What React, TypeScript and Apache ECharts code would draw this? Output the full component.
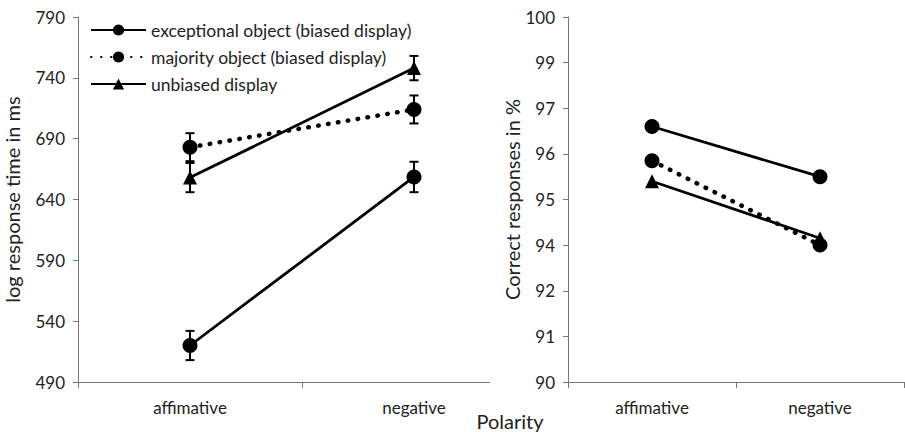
import React, { useEffect, useRef } from "react";
import * as echarts from "echarts";

const categories = ["affimative", "negative"];
const seriesNames = [
  "exceptional object (biased display)",
  "majority object (biased display)",
  "unbiased display",
];

// Left panel: log response time in ms (mean, error)
const rtExceptional = [520, 658.5];
const rtExceptionalErr = [12, 12.5];
const rtMajority = [683, 714];
const rtMajorityErr = [11.5, 11.5];
const rtUnbiased = [658, 748];
const rtUnbiasedErr = [12, 10];

// Right panel: correct responses in %
const accExceptional = [96.6, 95.5];
const accMajority = [95.85, 94.0];
const accUnbiased = [95.4, 94.15];
const accTickLabels = [90, 91, 92, 94, 95, 96, 97, 99, 100];

const FONT = "Lato";

function accPos(v: number): number {
  for (let i = 0; i < accTickLabels.length - 1; i++) {
    const a = accTickLabels[i];
    const b = accTickLabels[i + 1];
    if (v >= a && v <= b) return i + (v - a) / (b - a);
  }
  return 0;
}

function errData(means: number[], errs: number[]) {
  return means.map((m, i) => [i, m - errs[i], m + errs[i]]);
}

const renderErr = (params: any, api: any) => {
  const x = api.value(0);
  const lo = api.coord([x, api.value(1)]);
  const hi = api.coord([x, api.value(2)]);
  const cap = 4.5;
  const style = { stroke: "#000", lineWidth: 2 };
  return {
    type: "group",
    children: [
      { type: "line", shape: { x1: lo[0], y1: lo[1], x2: hi[0], y2: hi[1] }, style },
      { type: "line", shape: { x1: lo[0] - cap, y1: lo[1], x2: lo[0] + cap, y2: lo[1] }, style },
      { type: "line", shape: { x1: hi[0] - cap, y1: hi[1], x2: hi[0] + cap, y2: hi[1] }, style },
    ],
  };
};

export default function App() {
  const ref = useRef<HTMLDivElement>(null);
  useEffect(() => {
    if (!ref.current) return;
    const chart = echarts.init(ref.current, undefined, { renderer: "svg" });
    const solid = { color: "#000", width: 2.8, type: "solid" as const };
    const dotted = { color: "#000", width: 4.5, type: [0.5, 9.5], cap: "round" as const };
    const axisLabel = { color: "#222", fontFamily: FONT, fontSize: 17 };
    const axisLine = { show: true, lineStyle: { color: "#777", width: 1 } };
    const axisTick = { show: true, length: 5, lineStyle: { color: "#777" } };
    const titleStyle = { color: "#222", fontFamily: FONT, fontSize: 20 };

    const lineSeries = (
      name: string,
      data: number[],
      symbol: string,
      size: number,
      ls: any,
      gi: number
    ) => ({
      type: "line",
      name,
      data,
      xAxisIndex: gi,
      yAxisIndex: gi,
      symbol,
      symbolSize: size,
      showSymbol: true,
      itemStyle: { color: "#000", borderWidth: 0 },
      lineStyle: ls,
      z: 5,
    });

    const errSeries = (data: any[], gi: number) => ({
      type: "custom",
      xAxisIndex: gi,
      yAxisIndex: gi,
      renderItem: renderErr,
      data,
      z: 3,
      silent: true,
    });

    chart.setOption({
      animation: false,
      backgroundColor: "#fff",
      textStyle: { fontFamily: FONT },
      grid: [
        { left: 78, right: 379, top: 17, bottom: 50 },
        { left: 568, right: 1, top: 17, bottom: 50 },
      ],
      legend: {
        left: 90,
        top: 21,
        padding: 0,
        orient: "vertical",
        itemWidth: 55,
        itemHeight: 14,
        itemGap: 9,
        data: seriesNames,
        textStyle: { color: "#222", fontFamily: FONT, fontSize: 17.5 },
        selectedMode: false,
      },
      xAxis: [0, 1].map((gi) => ({
        type: "category",
        gridIndex: gi,
        data: categories,
        boundaryGap: true,
        axisLine,
        axisTick: { show: true, length: 6, lineStyle: { color: "#777" } },
        axisLabel: { ...axisLabel, margin: 17 },
        splitLine: { show: false },
      })),
      yAxis: [
        {
          type: "value",
          gridIndex: 0,
          min: 490,
          max: 790,
          interval: 50,
          axisLine,
          axisTick,
          axisLabel: { ...axisLabel, margin: 13 },
          splitLine: { show: false },
          name: "log response time in ms",
          nameLocation: "middle",
          nameGap: 56,
          nameTextStyle: titleStyle,
        },
        {
          type: "value",
          gridIndex: 1,
          min: 0,
          max: 8,
          interval: 1,
          axisLine,
          axisTick,
          axisLabel: {
            ...axisLabel,
            margin: 13,
            formatter: (v: number) => String(accTickLabels[Math.round(v)] ?? ""),
          },
          splitLine: { show: false },
          name: "Correct responses in %",
          nameLocation: "middle",
          nameGap: 45,
          nameTextStyle: titleStyle,
        },
      ],
      graphic: [
        {
          type: "rect",
          shape: { x: 490, y: 372, width: 40, height: 20 },
          style: { fill: "#fff" },
          z: 100,
        },
        {
          type: "text",
          x: 510,
          y: 421,
          style: {
            text: "Polarity",
            fontFamily: FONT,
            fontSize: 20,
            fill: "#222",
            align: "center",
            verticalAlign: "middle",
          },
          z: 100,
        },
      ],
      series: [
        errSeries(errData(rtExceptional, rtExceptionalErr), 0),
        errSeries(errData(rtMajority, rtMajorityErr), 0),
        errSeries(errData(rtUnbiased, rtUnbiasedErr), 0),
        lineSeries(seriesNames[0], rtExceptional, "circle", 15, solid, 0),
        lineSeries(seriesNames[1], rtMajority, "circle", 15, dotted, 0),
        lineSeries(seriesNames[2], rtUnbiased, "triangle", 14, solid, 0),
        lineSeries(seriesNames[0], accExceptional.map(accPos), "circle", 15, solid, 1),
        lineSeries(seriesNames[1], accMajority.map(accPos), "circle", 15, dotted, 1),
        lineSeries(seriesNames[2], accUnbiased.map(accPos), "triangle", 14, solid, 1),
      ],
    });
    return () => chart.dispose();
  }, []);
  return (
    <div
      ref={ref}
      style={{ position: "fixed", left: 0, top: 0, width: 905, height: 432, background: "#fff" }}
    />
  );
}
